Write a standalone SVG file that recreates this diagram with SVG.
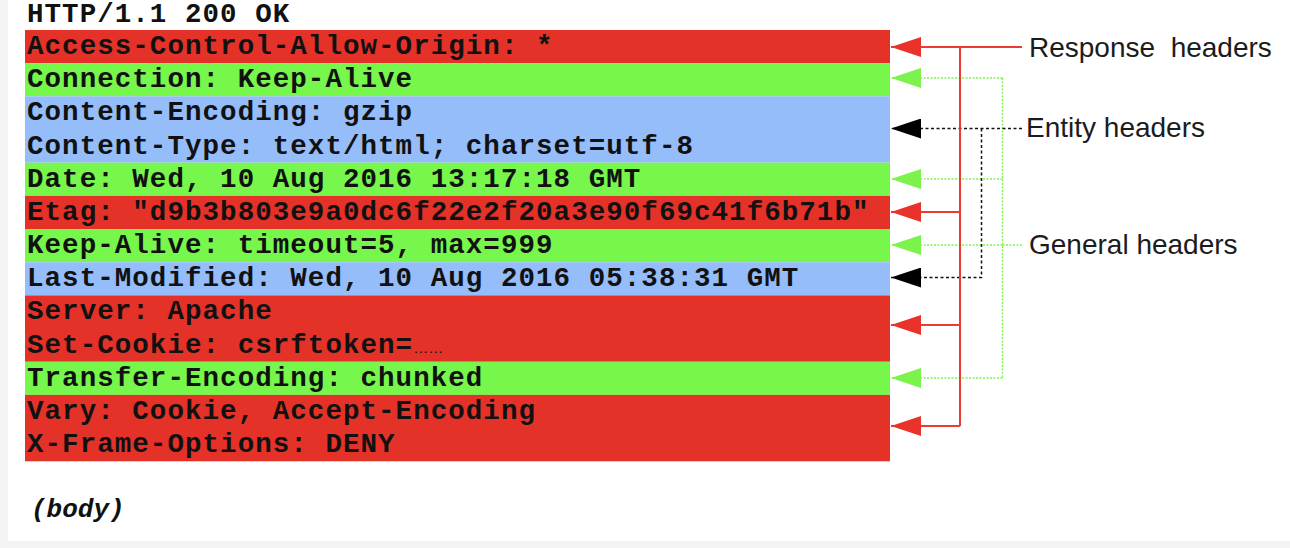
<svg xmlns="http://www.w3.org/2000/svg" width="1290" height="548" viewBox="0 0 1290 548">
<style>
.bg{fill:#f4f4f4}
.panel{fill:#ffffff}
.red{fill:#e53228}
.green{fill:#77f64b}
.blue{fill:#95bdfa}
.mono{font-family:"Liberation Mono","Courier New",monospace;font-weight:bold;font-size:27.5px;letter-spacing:1.05px;fill:#111}
.body{font-family:"Liberation Mono","Courier New",monospace;font-weight:bold;font-style:italic;font-size:26px;fill:#111}
.label{font-family:"Liberation Sans",Arial,sans-serif;font-size:28px;fill:#1c1c1c;white-space:pre}
.dots{font-family:"Liberation Sans",Arial,sans-serif;font-weight:normal;font-size:15px;letter-spacing:0}
.resp{fill:none;stroke:#ec3b33;stroke-width:2}
.ent{fill:none;stroke:#111;stroke-width:1.5;stroke-dasharray:3 2.5}
.gen{fill:none;stroke:#7df24f;stroke-width:1.3;stroke-dasharray:2 1.5}
</style>
<defs>
<marker id="aRed" markerUnits="userSpaceOnUse" markerWidth="30" markerHeight="20" refX="30" refY="10" orient="auto"><path d="M0,0 L30,10 L0,20 z" fill="#e8322a"/></marker>
<marker id="aGreen" markerUnits="userSpaceOnUse" markerWidth="30" markerHeight="20" refX="30" refY="10" orient="auto"><path d="M0,0 L30,10 L0,20 z" fill="#7cf24c"/></marker>
<marker id="aBlack" markerUnits="userSpaceOnUse" markerWidth="30" markerHeight="20" refX="30" refY="10" orient="auto"><path d="M0,0 L30,10 L0,20 z" fill="#000"/></marker>
</defs>
<rect class="bg" x="0" y="0" width="1290" height="548"/>
<rect class="panel" x="8" y="0" width="1282" height="541"/>

<g id="status"><text class="mono" x="27" y="21.5">HTTP/1.1 200 OK</text></g>

<g id="access-control"><rect class="red" x="25" y="30" width="865" height="33.2"/><text class="mono" x="27" y="54">Access-Control-Allow-Origin: *</text></g>
<g id="connection"><rect class="green" x="25" y="63.2" width="865" height="33.2"/><text class="mono" x="27" y="87.2">Connection: Keep-Alive</text></g>
<g id="content"><rect class="blue" x="25" y="96.3" width="865" height="66.4"/><text class="mono" x="27" y="120.3">Content-Encoding: gzip</text><text class="mono" x="27" y="153.5">Content-Type: text/html; charset=utf-8</text></g>
<g id="date"><rect class="green" x="25" y="162.7" width="865" height="33.2"/><text class="mono" x="27" y="186.7">Date: Wed, 10 Aug 2016 13:17:18 GMT</text></g>
<g id="etag"><rect class="red" x="25" y="195.9" width="865" height="33.2"/><text class="mono" x="27" y="219.9">Etag: "d9b3b803e9a0dc6f22e2f20a3e90f69c41f6b71b"</text></g>
<g id="keep-alive"><rect class="green" x="25" y="229" width="865" height="33.2"/><text class="mono" x="27" y="253">Keep-Alive: timeout=5, max=999</text></g>
<g id="last-modified"><rect class="blue" x="25" y="262.2" width="865" height="33.2"/><text class="mono" x="27" y="286.2">Last-Modified: Wed, 10 Aug 2016 05:38:31 GMT</text></g>
<g id="server"><rect class="red" x="25" y="295.4" width="865" height="66.4"/><text class="mono" x="27" y="319.4">Server: Apache</text><text class="mono" x="27" y="352.5">Set-Cookie: csrftoken=<tspan class="dots">……</tspan></text></g>
<g id="transfer-encoding"><rect class="green" x="25" y="361.7" width="865" height="33.2"/><text class="mono" x="27" y="385.7">Transfer-Encoding: chunked</text></g>
<g id="vary"><rect class="red" x="25" y="394.9" width="865" height="66.4"/><text class="mono" x="27" y="418.9">Vary: Cookie, Accept-Encoding</text><text class="mono" x="27" y="452">X-Frame-Options: DENY</text></g>

<g id="body-node"><text class="body" x="31" y="517">(body)</text></g>

<g id="connectors">
<path class="gen" d="M1002.5,78 V378"/>
<path class="gen" d="M1022,245 H1002.5"/>
<path class="gen" d="M1002.5,78 H891" marker-end="url(#aGreen)"/>
<path class="gen" d="M1002.5,179 H891" marker-end="url(#aGreen)"/>
<path class="gen" d="M1002.5,245 H891" marker-end="url(#aGreen)"/>
<path class="gen" d="M1002.5,378 H891" marker-end="url(#aGreen)"/>
<path class="ent" d="M1022,128.5 H891" marker-end="url(#aBlack)"/>
<path class="ent" d="M981.5,128.5 V277.5 H891" marker-end="url(#aBlack)"/>
<path class="resp" d="M960,47 V426"/>
<path class="resp" d="M1022,47 H891" marker-end="url(#aRed)"/>
<path class="resp" d="M960,212 H891" marker-end="url(#aRed)"/>
<path class="resp" d="M960,325 H891" marker-end="url(#aRed)"/>
<path class="resp" d="M960,426 H891" marker-end="url(#aRed)"/>
</g>

<g id="response-label"><text class="label" x="1029" y="57" xml:space="preserve">Response  headers</text></g>
<g id="entity-label"><text class="label" x="1026" y="137">Entity headers</text></g>
<g id="general-label"><text class="label" x="1029" y="254">General headers</text></g>
</svg>
